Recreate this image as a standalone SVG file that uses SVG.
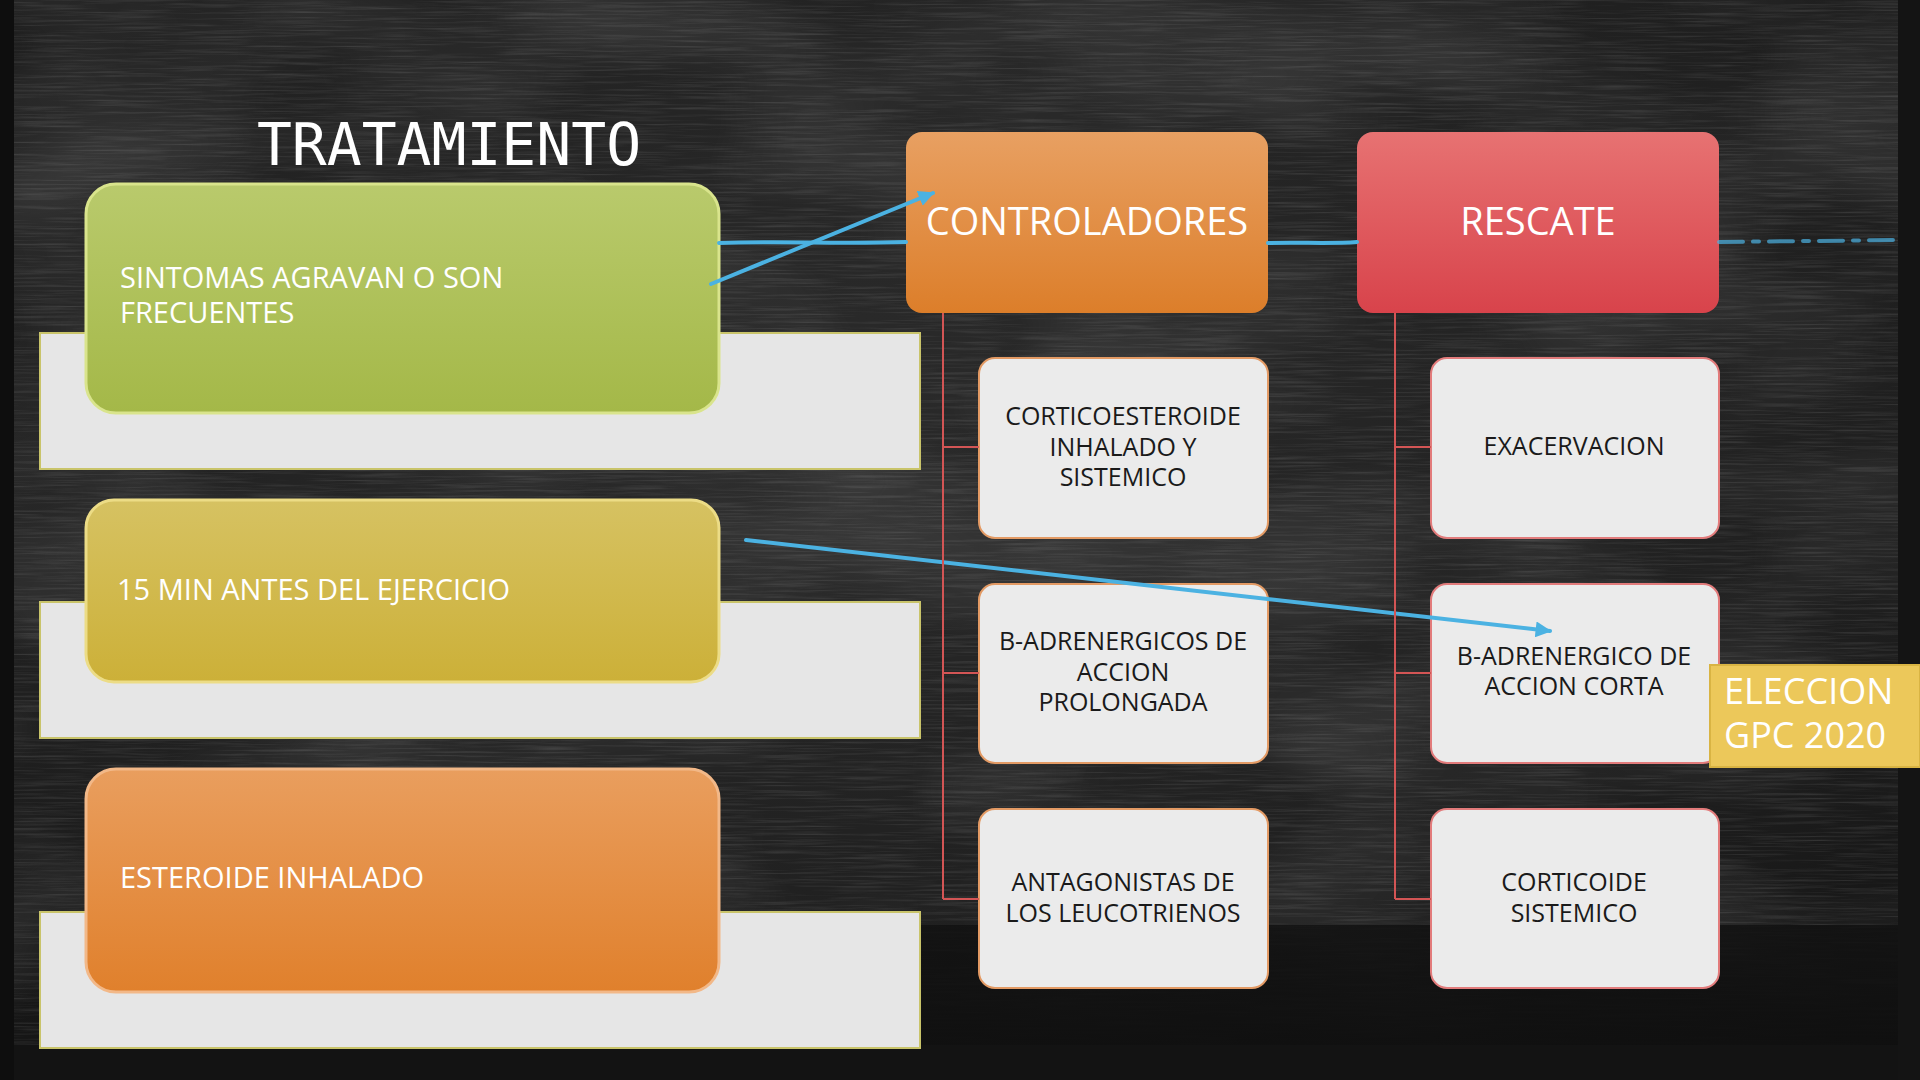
<svg xmlns="http://www.w3.org/2000/svg" width="1920" height="1080" viewBox="0 0 1920 1080">
<defs>
<filter id="chalk" x="0" y="0" width="100%" height="100%">
<feTurbulence type="fractalNoise" baseFrequency="0.012 0.5" numOctaves="3" seed="7" result="n"/>
<feColorMatrix in="n" type="matrix" values="0 0 0 0 0.6  0 0 0 0 0.6  0 0 0 0 0.6  0 0 0 1.4 -0.62" result="s"/>
<feComposite in="s" in2="SourceGraphic" operator="in"/>
</filter>
<filter id="blot" x="0" y="0" width="100%" height="100%">
<feTurbulence type="fractalNoise" baseFrequency="0.004 0.008" numOctaves="2" seed="3" result="n"/>
<feColorMatrix in="n" type="matrix" values="0 0 0 0 0.5  0 0 0 0 0.5  0 0 0 0 0.5  0 0 0 1.2 -0.45" result="s"/>
<feComposite in="s" in2="SourceGraphic" operator="in"/>
</filter>
<radialGradient id="bgGlow" cx="0.45" cy="0.35" r="0.75">
<stop offset="0" stop-color="#2a2a2a"/>
<stop offset="0.7" stop-color="#202020"/>
<stop offset="1" stop-color="#161616"/>
</radialGradient>
<linearGradient id="bottomFade" x1="0" y1="0" x2="0" y2="1">
<stop offset="0" stop-color="#111111" stop-opacity="0.85"/>
<stop offset="1" stop-color="#0f0f0f" stop-opacity="1"/>
</linearGradient>
<linearGradient id="gGreen" x1="0" y1="0" x2="0" y2="1">
<stop offset="0" stop-color="#b9ca6c"/>
<stop offset="1" stop-color="#a4b848"/>
</linearGradient>
<linearGradient id="gYellow" x1="0" y1="0" x2="0" y2="1">
<stop offset="0" stop-color="#d6c262"/>
<stop offset="1" stop-color="#ccb038"/>
</linearGradient>
<linearGradient id="gOrange" x1="0" y1="0" x2="0" y2="1">
<stop offset="0" stop-color="#e99e5e"/>
<stop offset="1" stop-color="#e0802c"/>
</linearGradient>
<linearGradient id="gCtrl" x1="0" y1="0" x2="0" y2="1">
<stop offset="0" stop-color="#e8a062"/>
<stop offset="1" stop-color="#dc7e2a"/>
</linearGradient>
<linearGradient id="gResc" x1="0" y1="0" x2="0" y2="1">
<stop offset="0" stop-color="#e77272"/>
<stop offset="1" stop-color="#d8434b"/>
</linearGradient>
<marker id="arr" viewBox="0 0 10 10" refX="9" refY="5" markerWidth="4" markerHeight="4" orient="auto" markerUnits="strokeWidth">
<path d="M0,0 L10,5 L0,10 z" fill="#4bb2e2"/>
</marker>
</defs>
<style>
.lbl{font-family:"Open Sans","DejaVu Sans",sans-serif;fill:#ffffff}
.blk{font-family:"Open Sans","DejaVu Sans",sans-serif;fill:#1a1a1a;font-size:25px;text-anchor:middle}
.plate{fill:#e6e6e6;stroke:#c9c46a;stroke-width:2}
.child-c{fill:#ebebeb;stroke:#e39a64;stroke-width:2}
.child-r{fill:#ebebeb;stroke:#e27b7b;stroke-width:2}
.tree{stroke:#d35555;stroke-width:2;fill:none}
.blue{stroke:#4bb2e2;stroke-width:4;fill:none;stroke-linecap:round}
</style>

<g id="background">
<rect x="0" y="0" width="1920" height="1080" fill="url(#bgGlow)"/>
<rect x="0" y="0" width="1920" height="1080" fill="#ffffff" filter="url(#blot)" opacity="0.25"/>
<rect x="0" y="0" width="1920" height="1080" fill="#ffffff" filter="url(#chalk)" opacity="0.22"/>
<rect x="920" y="925" width="1000" height="155" fill="url(#bottomFade)"/>
<rect x="0" y="1045" width="1920" height="35" fill="#131313"/>
<rect x="0" y="0" width="14" height="1080" fill="#0e0e0e"/>
<rect x="1898" y="0" width="22" height="1080" fill="#141414"/>
</g>

<g id="title">
<text x="449" y="165" font-family="DejaVu Sans Mono, Liberation Mono, monospace" font-size="58" fill="#ffffff" text-anchor="middle">TRATAMIENTO</text>
</g>

<g id="plate-1"><rect class="plate" x="40" y="333" width="880" height="136"/></g>
<g id="plate-2"><rect class="plate" x="40" y="602" width="880" height="136"/></g>
<g id="plate-3"><rect class="plate" x="40" y="912" width="880" height="136"/></g>

<g id="node-sintomas">
<rect x="86" y="184" width="633" height="229" rx="30" fill="url(#gGreen)" stroke="#d9e48c" stroke-width="3"/>
<text class="lbl" font-size="29" x="120" y="288">SINTOMAS AGRAVAN O SON</text>
<text class="lbl" font-size="29" x="120" y="323">FRECUENTES</text>
</g>

<g id="node-ejercicio">
<rect x="86" y="500" width="633" height="182" rx="28" fill="url(#gYellow)" stroke="#ecdc86" stroke-width="3"/>
<text class="lbl" font-size="29" x="117" y="600">15 MIN ANTES DEL EJERCICIO</text>
</g>

<g id="node-esteroide">
<rect x="86" y="769" width="633" height="223" rx="30" fill="url(#gOrange)" stroke="#f2b888" stroke-width="3"/>
<text class="lbl" font-size="29" x="120" y="888">ESTEROIDE INHALADO</text>
</g>

<g id="node-controladores">
<rect x="906" y="132" width="362" height="181" rx="16" fill="url(#gCtrl)"/>
<text class="lbl" font-size="38" x="1087" y="235" text-anchor="middle">CONTROLADORES</text>
</g>

<g id="node-rescate">
<rect x="1357" y="132" width="362" height="181" rx="16" fill="url(#gResc)"/>
<text class="lbl" font-size="38" x="1538" y="235" text-anchor="middle">RESCATE</text>
</g>

<g id="node-corticoesteroide">
<rect class="child-c" x="979" y="358" width="289" height="180" rx="16"/>
<text class="blk" x="1123" y="425">CORTICOESTEROIDE</text>
<text class="blk" x="1123" y="456">INHALADO Y</text>
<text class="blk" x="1123" y="486">SISTEMICO</text>
</g>

<g id="node-badrenergicos">
<rect class="child-c" x="979" y="584" width="289" height="179" rx="16"/>
<text class="blk" x="1123" y="650">B-ADRENERGICOS DE</text>
<text class="blk" x="1123" y="681">ACCION</text>
<text class="blk" x="1123" y="711">PROLONGADA</text>
</g>

<g id="node-antagonistas">
<rect class="child-c" x="979" y="809" width="289" height="179" rx="16"/>
<text class="blk" x="1123" y="891">ANTAGONISTAS DE</text>
<text class="blk" x="1123" y="922">LOS LEUCOTRIENOS</text>
</g>

<g id="node-exacervacion">
<rect class="child-r" x="1431" y="358" width="288" height="180" rx="16"/>
<text class="blk" x="1574" y="455">EXACERVACION</text>
</g>

<g id="node-badrenergico-corta">
<rect class="child-r" x="1431" y="584" width="288" height="179" rx="16"/>
<text class="blk" x="1574" y="665">B-ADRENERGICO DE</text>
<text class="blk" x="1574" y="695">ACCION CORTA</text>
</g>

<g id="node-corticoide">
<rect class="child-r" x="1431" y="809" width="288" height="179" rx="16"/>
<text class="blk" x="1574" y="891">CORTICOIDE</text>
<text class="blk" x="1574" y="922">SISTEMICO</text>
</g>

<g id="node-eleccion">
<rect x="1710" y="665" width="210" height="102" fill="#ecc85a" stroke="#d9b443" stroke-width="2"/>
<text class="lbl" font-size="36" x="1724" y="704">ELECCION</text>
<text class="lbl" font-size="36" x="1724" y="748">GPC 2020</text>
</g>

<g id="connectors">
<path class="blue" d="M719,243 C780,241 840,244 906,242" stroke-width="5"/>
<path class="blue" d="M1268,243 C1300,242 1330,244 1357,242" stroke-width="4"/>
<path class="blue" d="M1719,242 L1900,240" stroke-width="2" stroke-dasharray="24 10 6 10" opacity="0.7"/>
<line class="blue" x1="711" y1="284" x2="933" y2="193" marker-end="url(#arr)"/>
<line class="blue" x1="746" y1="540" x2="1550" y2="631" marker-end="url(#arr)"/>
<path class="tree" d="M943,313 V899 M943,447 H979 M943,673 H979 M943,899 H979"/>
<path class="tree" d="M1395,313 V899 M1395,447 H1431 M1395,673 H1431 M1395,899 H1431"/>
</g>
</svg>
